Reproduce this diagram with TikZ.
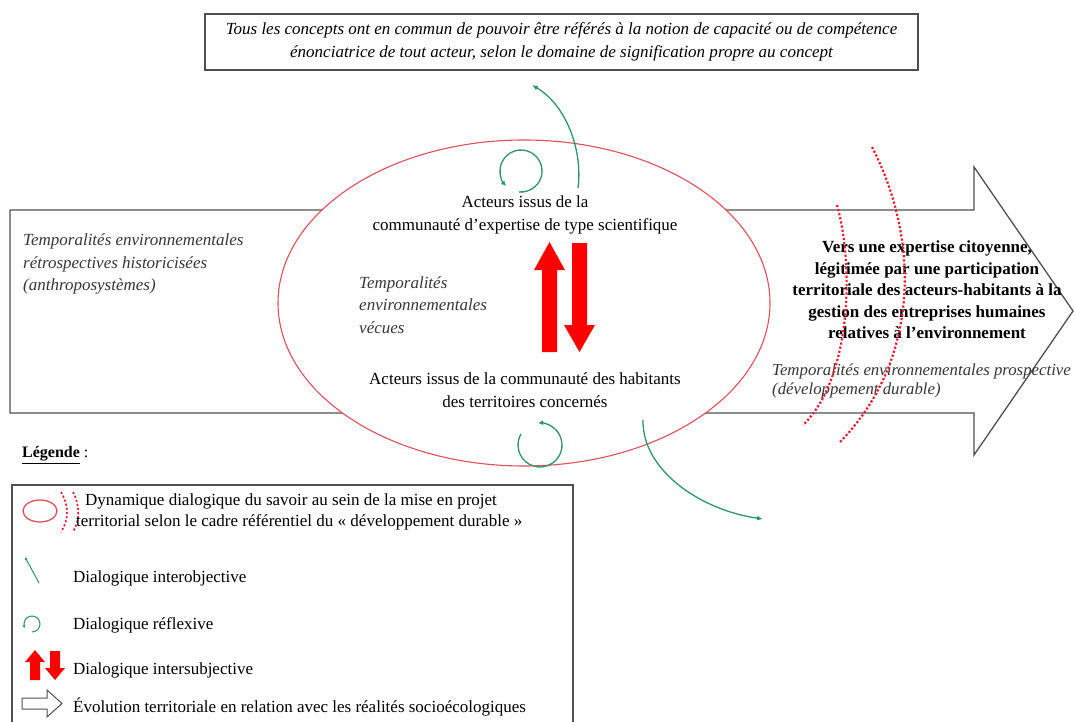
\documentclass[tikz,border=0pt]{standalone}
\usepackage{fontspec}
\setmainfont{Liberation Serif}
\usetikzlibrary{arrows.meta,positioning}

\definecolor{dlggreen}{RGB}{45,150,105}
\definecolor{ellred}{RGB}{225,80,90}
\definecolor{dotred}{RGB}{230,30,50}
\definecolor{linegray}{RGB}{80,80,80}
\definecolor{txtgray}{RGB}{55,55,55}

\tikzset{
	txt/.style={font=\fontsize{17}{23.5}\selectfont, align=center, inner sep=0pt},
	itxt/.style={font=\fontsize{17}{22.5}\selectfont\itshape, text=txtgray, align=left, inner sep=0pt},
	legtxt/.style={font=\fontsize{17}{20.5}\selectfont, align=left, inner sep=0pt, anchor=west},
	interobj/.style={draw=dlggreen, line width=1.3pt, -{Latex[length=6pt,width=5pt]}},
	reflex/.style={draw=dlggreen, line width=1.3pt, -{Latex[length=5pt,width=5pt]}},
	dotarc/.style={draw=dotred, line width=2.2pt, dotted},
	flowarrow/.style={draw=linegray, line width=1.3pt, fill=white}
}

\begin{document}
\begin{tikzpicture}[x=1pt,y=-1pt]
	\useasboundingbox (0,0) rectangle (1075,722);

	% grande fleche : evolution territoriale
	\draw[flowarrow] (10,210) -- (974,210) -- (974,167) -- (1073,311) -- (974,455) -- (974,413) -- (10,413) -- cycle;

	% ellipse dialogique
	\draw[ellred, line width=1.1pt, fill=white] (524,303) ellipse [x radius=246, y radius=163];

	% cadre du haut
	\node[draw=linegray, line width=1.4pt, minimum width=713pt, minimum height=56pt, inner sep=0pt,
		font=\fontsize{17}{23}\selectfont\itshape, align=center] (concepts) at (561.5,42)
		{Tous les concepts ont en commun de pouvoir être référés à la notion de capacité ou de compétence\\
		énonciatrice de tout acteur, selon le domaine de signification propre au concept};

	% textes
	\node[txt] (sci) at (525,215) {Acteurs issus de la\\communauté d’expertise de type scientifique};
	\node[txt] (hab) at (525,390) {Acteurs issus de la communauté des habitants\\des territoires concernés};
	\node[itxt, anchor=west] (vecues) at (359,305) {Temporalités\\environnementales\\vécues};
	\node[itxt, anchor=west] (retro) at (23,264) {Temporalités environnementales\\rétrospectives historicisées\\(anthroposystèmes)};
	\node[itxt, anchor=west, font=\fontsize{16.8}{19}\selectfont\itshape] (prosp) at (772,381)
		{Temporalités environnementales prospective\\(développement durable)};
	\node[txt, font=\fontsize{17}{21.5}\selectfont\bfseries] (expert) at (927,290)
		{Vers une expertise citoyenne,\\légitimée par une participation\\territoriale des acteurs-habitants à la\\gestion des entreprises humaines\\relatives à l’environnement};

	% arcs pointilles
	\draw[dotarc] (837,205) .. controls (855,270) and (850,380) .. (803,425);
	\draw[dotarc] (872,147) .. controls (920,240) and (920,360) .. (840,442);

	% dialogique interobjective
	\coordinate (top) at (532,85);
	\coordinate (bot) at (763,519);
	\draw[interobj] (578,188) .. controls (583,150) and (566,105) .. (top);
	\draw[interobj] (643,420) .. controls (642,470) and (700,510) .. (bot);

	% dialogique reflexive
	\draw[reflex] (521,171) ++(95:21) arc[start angle=95, end angle=-225, radius=21];
	\draw[reflex] (540,445) ++(210:22) arc[start angle=210, end angle=-95, radius=22];

	% dialogique intersubjective
	\fill[red] (542,352) -- (542,270) -- (534,270) -- (549.5,242) -- (565,270) -- (557,270) -- (557,352) -- cycle;
	\fill[red] (572,243) -- (572,325) -- (564,325) -- (579.5,352) -- (595,325) -- (587,325) -- (587,243) -- cycle;

	% legende
	\node[anchor=west, inner sep=0pt, font=\fontsize{16}{18}\selectfont] (legende) at (22,455) {\underline{\textbf{Légende}} :};
	\draw[linegray, line width=1.3pt] (12,722) |- (573,485) -- (573,722);

	\draw[ellred, line width=1.3pt] (40,511) ellipse [x radius=17, y radius=11];
	\draw[dotarc, line width=1.6pt] (61,492) .. controls (69,505) and (69,520) .. (61,532);
	\draw[dotarc, line width=1.6pt] (73,492) .. controls (80,505) and (80,520) .. (73,532);
	\node[legtxt] (leg1) at (76,512) {\hspace*{9pt}Dynamique dialogique du savoir au sein de la mise en projet\\territorial selon le cadre référentiel du « développement durable »};

	\draw[interobj, line width=1pt, -{Latex[length=3pt,width=3pt]}] (39,583) -- (25,557);
	\node[legtxt] (leg2) at (73,578) {Dialogique interobjective};

	\draw[reflex, line width=1pt, -{Latex[length=3pt,width=3pt]}] (32,624) ++(90:8) arc[start angle=90, end angle=-210, radius=8];
	\node[legtxt] (leg3) at (73,625) {Dialogique réflexive};

	\fill[red] (30,680) -- (30,662) -- (25,662) -- (35,650) -- (45,662) -- (40,662) -- (40,680) -- cycle;
	\fill[red] (50,651) -- (50,668) -- (45,668) -- (55,680) -- (65,668) -- (60,668) -- (60,651) -- cycle;
	\node[legtxt] (leg4) at (73,670) {Dialogique intersubjective};

	\draw[flowarrow, line width=1pt] (22,698) -- (47,698) -- (47,690) -- (62,703.5) -- (47,717) -- (47,709) -- (22,709) -- cycle;
	\node[legtxt] (leg5) at (73,707) {Évolution territoriale en relation avec les réalités socioécologiques};
\end{tikzpicture}
\end{document}
